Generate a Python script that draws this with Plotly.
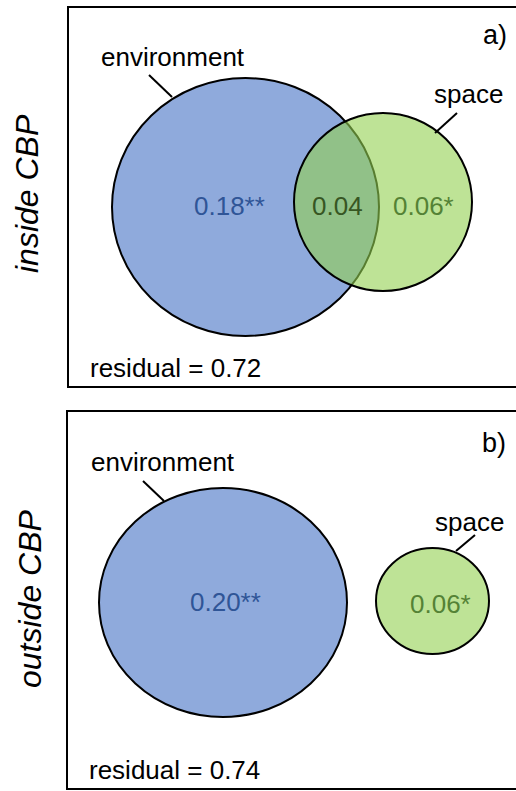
import plotly.graph_objects as go

# ---- data ----
panel_tags = ["a)", "b)"]
row_labels = ["inside CBP", "outside CBP"]
set_names = ["environment", "space"]
env_only = [0.18, 0.20]
env_sig = ["**", "**"]
shared = [0.04, None]
space_only = [0.06, 0.06]
space_sig = ["*", "*"]
residual = [0.72, 0.74]

# ---- layout geometry (pixel-space axes) ----
W, H = 516, 791
FONT = "Liberation Sans, Arial, sans-serif"
geom = [
    dict(box=(68, 7, 517, 387),
         env=(112, 78, 379, 336), spc=(294, 113, 472, 291),
         env_lead=((149, 75), (172, 97)), spc_lead=((457, 113), (435, 133)),
         env_lab=(173, 57), spc_lab=(468, 94), tag=(495, 35),
         env_txt=(229.5, 206), shr_txt=(337, 206), spc_txt=(423, 206),
         res=(88, 368), row=(27, 194)),
    dict(box=(67, 411, 517, 789),
         env=(99, 488, 347, 717), spc=(376, 548, 489, 654),
         env_lead=((143, 481), (164, 501)), spc_lead=((475, 535), (456, 551)),
         env_lab=(162.5, 462), spc_lab=(469, 522), tag=(494, 443),
         env_txt=(225.5, 602), shr_txt=None, spc_txt=(440, 604),
         res=(87, 770), row=(30, 599)),
]

BLUE_FILL = "rgba(68,114,196,0.6)"
GREEN_FILL = "rgba(146,208,80,0.6)"
BLUE_TXT = "#2F5597"
GREEN_TXT = "#548235"
DARK_TXT = "#375623"

fig = go.Figure()
shapes = []
annots = []


def txt(x, y, s, size=26, color="black", xanchor="center", italic=False, angle=0):
    annots.append(dict(x=x, y=y, xref="x", yref="y", text=s, showarrow=False,
                       xanchor=xanchor, yanchor="middle", textangle=angle,
                       font=dict(family=FONT, size=size, color=color,
                                 style="italic" if italic else "normal")))


for i, g in enumerate(geom):
    bx0, by0, bx1, by1 = g["box"]
    shapes.append(dict(type="rect", xref="x", yref="y", x0=bx0, y0=by0, x1=bx1, y1=by1,
                       line=dict(color="black", width=2), fillcolor="rgba(0,0,0,0)"))
    ex0, ey0, ex1, ey1 = g["env"]
    shapes.append(dict(type="circle", xref="x", yref="y", x0=ex0, y0=ey0, x1=ex1, y1=ey1,
                       line=dict(color="black", width=2), fillcolor=BLUE_FILL))
    sx0, sy0, sx1, sy1 = g["spc"]
    shapes.append(dict(type="circle", xref="x", yref="y", x0=sx0, y0=sy0, x1=sx1, y1=sy1,
                       line=dict(color="black", width=2), fillcolor=GREEN_FILL))
    for lead in (g["env_lead"], g["spc_lead"]):
        (lx0, ly0), (lx1, ly1) = lead
        shapes.append(dict(type="line", xref="x", yref="y", x0=lx0, y0=ly0, x1=lx1, y1=ly1,
                           line=dict(color="black", width=2)))
    txt(*g["env_lab"], set_names[0])
    txt(*g["spc_lab"], set_names[1])
    txt(*g["tag"], panel_tags[i], size=27)
    txt(*g["env_txt"], f"{env_only[i]:.2f}{env_sig[i]}", color=BLUE_TXT)
    if shared[i] is not None and g["shr_txt"] is not None:
        txt(*g["shr_txt"], f"{shared[i]:.2f}", color=DARK_TXT)
    txt(*g["spc_txt"], f"{space_only[i]:.2f}{space_sig[i]}", color=GREEN_TXT)
    txt(*g["res"], f"residual = {residual[i]:.2f}", xanchor="left")
    txt(*g["row"], row_labels[i], size=32, italic=True, angle=-90)

fig.update_layout(
    width=W, height=H, margin=dict(l=0, r=0, t=0, b=0),
    paper_bgcolor="white", plot_bgcolor="white",
    xaxis=dict(range=[0, W], visible=False, fixedrange=True),
    yaxis=dict(range=[H, 0], visible=False, fixedrange=True),
    shapes=shapes, annotations=annots, showlegend=False,
)

fig.write_html(
    "out.html",
    config={"displayModeBar": False},
    post_script="document.body.style.margin='0';document.body.style.overflow='hidden';",
)
